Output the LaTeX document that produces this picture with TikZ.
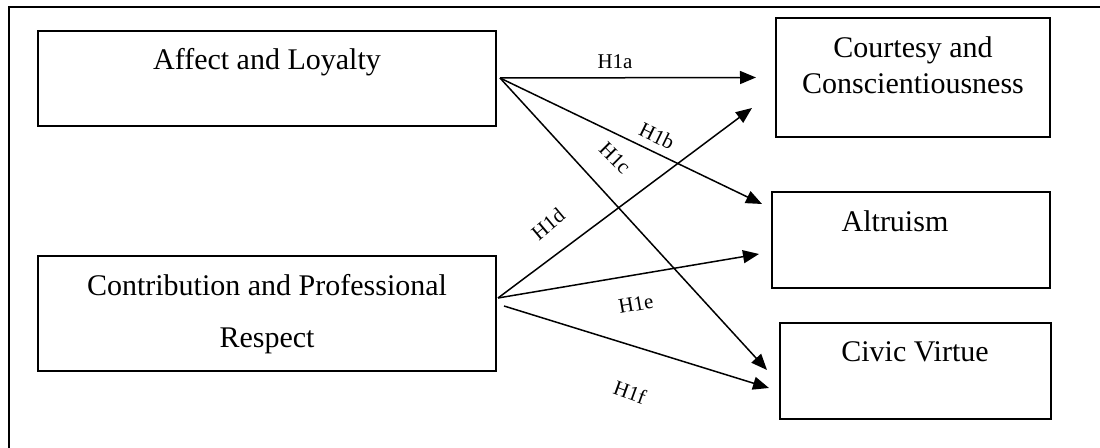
\documentclass[tikz,border=0pt]{standalone}
\usepackage{fontspec}
\setmainfont{Liberation Serif}
\usetikzlibrary{arrows.meta,calc}

\begin{document}
\begin{tikzpicture}[x=0.5pt, y=-0.5pt, >={Triangle[length=8pt,width=6.5pt]},
        box/.style={draw, line width=1pt, inner sep=0pt},
        boxtext/.style={font=\fontsize{15}{18}\selectfont, anchor=base, inner sep=0pt},
        hlab/.style={font=\fontsize{10.5}{12}\selectfont, inner sep=0pt},
        arr/.style={->, line width=0.75pt}]
        \useasboundingbox (0,0) rectangle (1100,448);
        \draw[line width=1pt] (1100,7) -- (9,7) -- (9,448);

        \node[box, minimum width=229pt, minimum height=47.5pt] (affect) at (267,78.5) {};
        \node[box, minimum width=229pt, minimum height=57.5pt] (contrib) at (267,313.5) {};
        \node[box, minimum width=137pt, minimum height=59.5pt] (courtesy) at (913,77.5) {};
        \node[box, minimum width=139pt, minimum height=48pt] (altruism) at (911,240) {};
        \node[box, minimum width=135.5pt, minimum height=48pt] (civic) at (915.5,371) {};

        % base anchor of a two-line node is the last line
        \node[boxtext] (affecttext) at (267,70) {Affect and Loyalty};
        \node[boxtext, align=center, font=\fontsize{15}{26}\selectfont] (contribtext) at (267,348) {Contribution and Professional\\Respect};
        \node[boxtext, align=center] (courtesytext) at (913,94) {Courtesy and\\Conscientiousness};
        \node[boxtext] (altruismtext) at (895,232) {Altruism};
        \node[boxtext] (civictext) at (915,362) {Civic Virtue};

        \coordinate (srcA) at ([shift={(3,-0.5)}]affect.east);
        \coordinate (srcB) at ([shift={(1,-15.5)}]contrib.east);
        \coordinate (srcC) at ([shift={(7,-7.5)}]contrib.east);

        \draw[arr] (srcA) -- ([shift={(-19,0)}]courtesy.west);
        \draw[arr] (srcA) -- ([shift={(-9,13)}]altruism.north west);
        \draw[arr] (srcA) -- ([shift={(-12,-1)}]civic.west);
        \draw[arr] (srcB) -- ([shift={(-23,-30)}]courtesy.south west);
        \draw[arr] (srcB) -- ([shift={(-12,14)}]altruism.west);
        \draw[arr] (srcC) -- ([shift={(-10,17)}]civic.west);

        \node[hlab] (h1a) at (615,62) {H1a};
        \node[hlab, rotate=-26] (h1b) at (657,136) {H1b};
        \node[hlab, rotate=-45] (h1c) at (615,158) {H1c};
        \node[hlab, rotate=40] (h1d) at (548,224) {H1d};
        \node[hlab, rotate=10] (h1e) at (636,304) {H1e};
        \node[hlab, rotate=-20] (h1f) at (630,392) {H1f};
        \end{tikzpicture}
\end{document}
